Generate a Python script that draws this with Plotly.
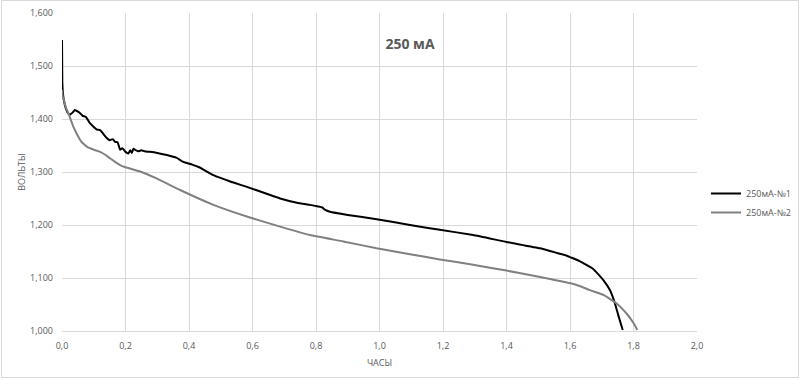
import plotly.graph_objects as go

# ---- data (hours, volts) ----
s1_name = "250мА-№1"
s1_x = [0, 0.001, 0.003, 0.006, 0.012, 0.02, 0.025, 0.033, 0.041, 0.05, 0.057, 0.065, 0.075,
        0.088, 0.1, 0.11, 0.12, 0.13, 0.141, 0.15, 0.16, 0.167, 0.175, 0.183, 0.19, 0.2,
        0.209, 0.215, 0.22, 0.225, 0.23, 0.24, 0.25, 0.26, 0.277, 0.3, 0.33, 0.36, 0.382,
        0.41, 0.432, 0.477, 0.53, 0.582, 0.64, 0.687, 0.74, 0.781, 0.807, 0.82, 0.828,
        0.844, 0.9, 0.991, 1.096, 1.19, 1.295, 1.40, 1.506, 1.537, 1.59, 1.602, 1.63,
        1.642, 1.673, 1.705, 1.726, 1.74, 1.752, 1.766]
s1_y = [1.549, 1.47, 1.448, 1.435, 1.42, 1.41, 1.408, 1.412, 1.417, 1.414, 1.411, 1.406, 1.404,
        1.392, 1.385, 1.38, 1.379, 1.372, 1.364, 1.360, 1.362, 1.357, 1.356, 1.342, 1.345, 1.338,
        1.335, 1.341, 1.336, 1.344, 1.342, 1.339, 1.341, 1.339, 1.338, 1.336, 1.332, 1.327, 1.319,
        1.314, 1.309, 1.294, 1.282, 1.272, 1.260, 1.250, 1.242, 1.238, 1.235, 1.233, 1.229,
        1.225, 1.219, 1.211, 1.200, 1.191, 1.181, 1.168, 1.156, 1.151, 1.142, 1.139, 1.132,
        1.128, 1.117, 1.096, 1.077, 1.055, 1.030, 1.002]

s2_name = "250мА-№2"
s2_x = [0, 0.002, 0.006, 0.012, 0.02, 0.028, 0.036, 0.044, 0.051, 0.06, 0.072, 0.08, 0.088,
        0.1, 0.12, 0.135, 0.151, 0.165, 0.183, 0.2, 0.246, 0.298, 0.372, 0.477, 0.582, 0.687,
        0.781, 0.886, 0.991, 1.096, 1.19, 1.295, 1.40, 1.506, 1.537, 1.602, 1.63, 1.663, 1.705,
        1.747, 1.778, 1.80, 1.812]
s2_y = [1.455, 1.443, 1.436, 1.422, 1.411, 1.398, 1.385, 1.375, 1.367, 1.358, 1.351, 1.347, 1.345,
        1.342, 1.338, 1.333, 1.326, 1.320, 1.313, 1.309, 1.301, 1.288, 1.266, 1.238, 1.216, 1.197,
        1.181, 1.169, 1.156, 1.145, 1.135, 1.125, 1.114, 1.102, 1.098, 1.090, 1.085, 1.077, 1.068,
        1.052, 1.033, 1.015, 1.002]

title_text = "250 мА"
x_title = "ЧАСЫ"
y_title = "ВОЛЬТЫ"

TXT = "#595959"
GRID = "#d9d9d9"
FONT = "Open Sans"

fig = go.Figure()
fig.add_trace(go.Scatter(x=s1_x, y=s1_y, mode="lines", name=s1_name,
                         line=dict(color="#000000", width=2, shape="spline", smoothing=0.4)))
fig.add_trace(go.Scatter(x=s2_x, y=s2_y, mode="lines", name=s2_name,
                         line=dict(color="#808080", width=2, shape="spline", smoothing=0.4)))

W, H = 800, 379
ml, mr, mt, mb = 62, 103, 13, 48
pw, ph = W - ml - mr, H - mt - mb

fig.update_layout(
    width=W, height=H,
    margin=dict(l=ml, r=mr, t=mt, b=mb, pad=0, autoexpand=False),
    paper_bgcolor="white", plot_bgcolor="white",
    separators=", ",
    font=dict(family=FONT, size=9, color=TXT),
    title=dict(text="<b>" + title_text + "</b>", font=dict(size=14, color=TXT, family=FONT),
               x=410 / W, y=1 - 44 / H, xref="container", yref="container",
               xanchor="center", yanchor="middle"),
    legend=dict(x=706 / W, y=1 - 203 / H, xref="container", yref="container",
                xanchor="left", yanchor="middle", font=dict(size=9, color=TXT),
                bgcolor="rgba(0,0,0,0)", tracegroupgap=0),
    xaxis=dict(range=[0, 2.0], dtick=0.2, tick0=0, tickformat=".1f",
               showgrid=True, gridcolor=GRID, gridwidth=1, zeroline=False,
               showline=True, linecolor=GRID, linewidth=1,
               ticks="", ticklabelstandoff=6,
               title=dict(text=x_title, font=dict(size=9, color=TXT), standoff=8)),
    yaxis=dict(range=[1.0, 1.6], dtick=0.1, tick0=1.0, tickformat=".3f",
               showgrid=True, gridcolor=GRID, gridwidth=1, zeroline=False,
               showline=False, ticks="", ticklabelstandoff=8,
               title=dict(text=y_title, font=dict(size=9, color=TXT), standoff=2)),
    showlegend=True,
)

# outer chart border
fig.add_shape(type="rect", xref="paper", yref="paper",
              x0=-(ml - 1.5) / pw, x1=1 + (mr - 1.5) / pw,
              y0=-(mb - 1.5) / ph, y1=1 + (mt - 0.5) / ph,
              line=dict(color=GRID, width=1), fillcolor="rgba(0,0,0,0)", layer="below")

fig.write_html("out.html")
